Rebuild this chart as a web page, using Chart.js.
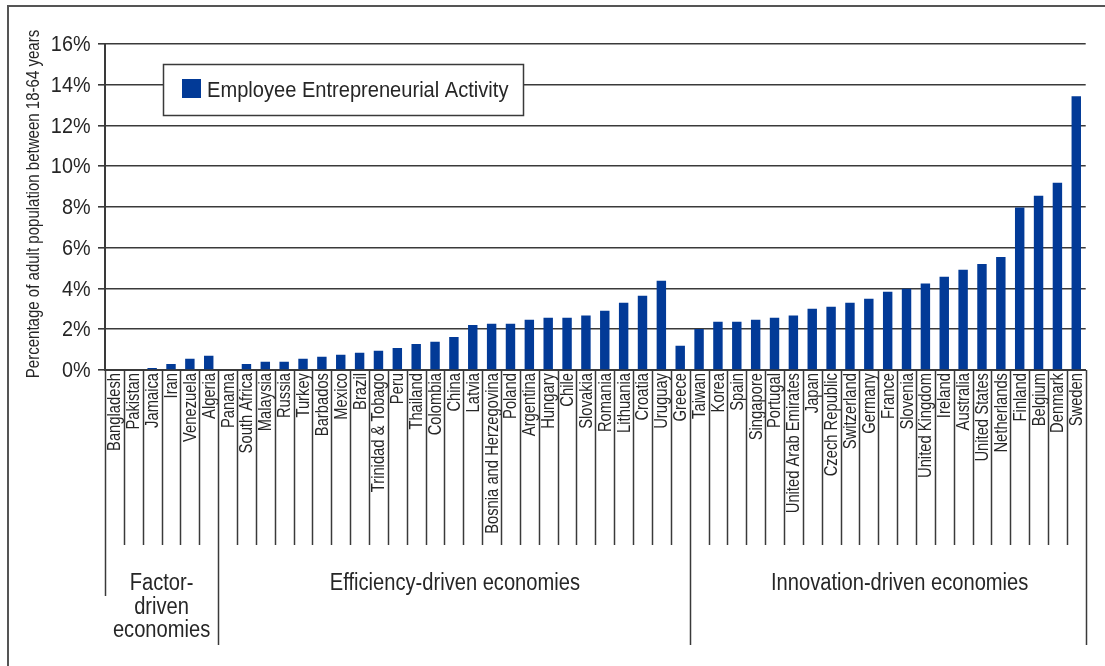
<!DOCTYPE html>
<html>
<head>
<meta charset="utf-8">
<title>Employee Entrepreneurial Activity</title>
<script src="https://cdn.jsdelivr.net/npm/chart.js@4/dist/chart.umd.min.js"></script>
<style>
  html, body { margin: 0; padding: 0; background: #ffffff; }
  #eeaChart { display: block; }
</style>
</head>
<body>
<canvas id="eeaChart" width="1105" height="666"></canvas>
<script>
/* ========== GRAFIK EMPLOYEE ENTREPRENEURIAL ACTIVITY ========== */

// Negara, urut per kelompok ekonomi
var countries = [
    "Bangladesh", "Pakistan", "Jamaica", "Iran", "Venezuela", "Algeria",
    "Panama", "South Africa", "Malaysia", "Russia", "Turkey", "Barbados", "Mexico",
    "Brazil", "Trinidad & Tobago", "Peru", "Thailand", "Colombia", "China", "Latvia",
    "Bosnia and Herzegovina", "Poland", "Argentina", "Hungary", "Chile", "Slovakia",
    "Romania", "Lithuania", "Croatia", "Uruguay", "Greece",
    "Taiwan", "Korea", "Spain", "Singapore", "Portugal", "United Arab Emirates",
    "Japan", "Czech Republic", "Switzerland", "Germany", "France", "Slovenia",
    "United Kingdom", "Ireland", "Australia", "United States", "Netherlands",
    "Finland", "Belgium", "Denmark", "Sweden"
];

// Persentase populasi dewasa 18-64 tahun
var eeaValues = [
    0, 0, 0.1, 0.3, 0.55, 0.7,
    0, 0.3, 0.4, 0.4, 0.55, 0.65, 0.75,
    0.85, 0.95, 1.08, 1.28, 1.39, 1.62, 2.21,
    2.27, 2.27, 2.47, 2.57, 2.57, 2.67,
    2.91, 3.3, 3.65, 4.38, 1.19,
    2.01, 2.37, 2.37, 2.47, 2.57, 2.67,
    3.01, 3.11, 3.3, 3.5, 3.84, 3.99,
    4.24, 4.58, 4.92, 5.2, 5.55,
    7.98, 8.55, 9.19, 13.43
];

var yTicks = [0, 2, 4, 6, 8, 10, 12, 14, 16];

// Kelompok ekonomi: jumlah negara per kelompok dan teks labelnya
var groupSizes = [6, 25, 21];
var groupLabels = [
    ["Factor-", "driven", "economies"],
    ["Efficiency-driven economies"],
    ["Innovation-driven economies"]
];

var yTitle = "Percentage of adult population between 18-64 years";

var FONT = "'Liberation Sans', Arial, Helvetica, sans-serif";
var TEXT_COLOR = "#262626";
var LINE_COLOR = "#3a3a3a";
var BAR_COLOR = "#023a97";

/**
 * Tulis teks huruf sempit (condensed): font Liberation Sans dipadatkan
 * searah teks dengan faktor sx
 */
function narrowText(ctx, text, x, y, size, sx, align, baseline, rot) {
    ctx.save();
    ctx.translate(x, y);
    if (rot) ctx.rotate(rot);
    ctx.scale(sx, 1);
    ctx.font = size + "px " + FONT;
    ctx.textAlign = align;
    ctx.textBaseline = baseline;
    ctx.fillText(text, 0, 0);
    ctx.restore();
}

/**
 * Label sumbu, garis pemisah negara & kelompok di bawah sumbu,
 * label kelompok, kotak legenda dan bingkai luar
 */
var decorPlugin = {
    id: "decor",
    afterDraw: function(chart) {
        var ctx = chart.ctx;
        var xs = chart.scales.x;
        var ys = chart.scales.y;
        var area = chart.chartArea;
        var n = countries.length;

        ctx.save();
        ctx.fillStyle = TEXT_COLOR;

        // label sumbu Y
        ys.ticks.forEach(function(t) {
            narrowText(ctx, t.value + "%", area.left - 14.5, ys.getPixelForValue(t.value) + 1,
                22, 0.9, "right", "middle", 0);
        });
        narrowText(ctx, yTitle, 38.5, (area.top + area.bottom) / 2 - 3,
            18, 0.835, "center", "alphabetic", -Math.PI / 2);

        // label negara (vertikal)
        for (var i = 0; i < n; i++) {
            narrowText(ctx, countries[i], xs.getPixelForValue(i) + 1, area.bottom + 3,
                18, 0.82, "right", "middle", -Math.PI / 2);
        }

        // batas kelompok (indeks awal tiap kelompok)
        var bounds = [0];
        groupSizes.forEach(function(s) { bounds.push(bounds[bounds.length - 1] + s); });

        ctx.strokeStyle = LINE_COLOR;
        ctx.lineWidth = 1.5;
        for (var j = 0; j <= n; j++) {
            var x = Math.round(xs.getPixelForValue(j - 0.5)) + 0.5;
            var y2 = area.bottom + 175;
            if (j === 0) {
                y2 = area.bottom + 226;
            } else if (bounds.indexOf(j) >= 0) {
                y2 = area.bottom + 275;
            }
            ctx.beginPath();
            ctx.moveTo(x, area.bottom);
            ctx.lineTo(x, y2);
            ctx.stroke();
        }

        // label kelompok
        var shift = [0, 1, 12];
        for (var g = 0; g < groupSizes.length; g++) {
            var xa = xs.getPixelForValue(bounds[g] - 0.5);
            var xb = xs.getPixelForValue(bounds[g + 1] - 0.5);
            var cx = (xa + xb) / 2 + shift[g];
            groupLabels[g].forEach(function(line, k) {
                narrowText(ctx, line, cx, area.bottom + 220 + k * 23.5,
                    23, 0.875, "center", "alphabetic", 0);
            });
        }

        // kotak legenda
        var ds = chart.data.datasets[0];
        ctx.fillStyle = "#ffffff";
        ctx.fillRect(163, 64, 360, 51);
        ctx.strokeStyle = LINE_COLOR;
        ctx.lineWidth = 1.5;
        ctx.strokeRect(163.5, 64.5, 360, 51);
        ctx.fillStyle = ds.backgroundColor;
        ctx.fillRect(182, 79, 19, 19);
        ctx.fillStyle = TEXT_COLOR;
        narrowText(ctx, ds.label, 207, 96.5, 22, 0.913, "left", "alphabetic", 0);

        // bingkai luar
        ctx.strokeStyle = "#555555";
        ctx.lineWidth = 2;
        ctx.beginPath();
        ctx.moveTo(8, 666);
        ctx.lineTo(8, 6);
        ctx.lineTo(1105, 6);
        ctx.stroke();
        ctx.restore();
    }
};

function initEeaChart() {
    var el = document.getElementById("eeaChart");
    if (!el) {
        return;
    }

    new Chart(el, {
        type: "bar",
        data: {
            labels: countries,
            datasets: [{
                label: "Employee Entrepreneurial Activity",
                data: eeaValues,
                backgroundColor: BAR_COLOR,
                borderWidth: 0,
                barPercentage: 0.5,
                categoryPercentage: 1.0
            }]
        },
        options: {
            responsive: false,
            animation: false,
            events: [],
            layout: {
                padding: { top: 44, left: 8, right: 19.3, bottom: 0 }
            },
            plugins: {
                legend: { display: false },
                tooltip: { enabled: false }
            },
            scales: {
                x: {
                    offset: true,
                    grid: { display: false, drawTicks: false },
                    border: { display: true, color: LINE_COLOR, width: 2 },
                    ticks: { display: false },
                    afterFit: function(scale) {
                        scale.height = 296;
                    }
                },
                y: {
                    min: yTicks[0],
                    max: yTicks[yTicks.length - 1],
                    afterBuildTicks: function(scale) {
                        scale.ticks = yTicks.map(function(v) { return { value: v }; });
                    },
                    grid: {
                        color: LINE_COLOR,
                        lineWidth: 1.6,
                        tickLength: 7
                    },
                    border: { display: true, color: LINE_COLOR, width: 2 },
                    ticks: { display: false },
                    afterFit: function(scale) {
                        scale.width = 97;
                    }
                }
            }
        },
        plugins: [decorPlugin]
    });
}

document.addEventListener("DOMContentLoaded", function() {
    initEeaChart();
});
</script>
</body>
</html>
